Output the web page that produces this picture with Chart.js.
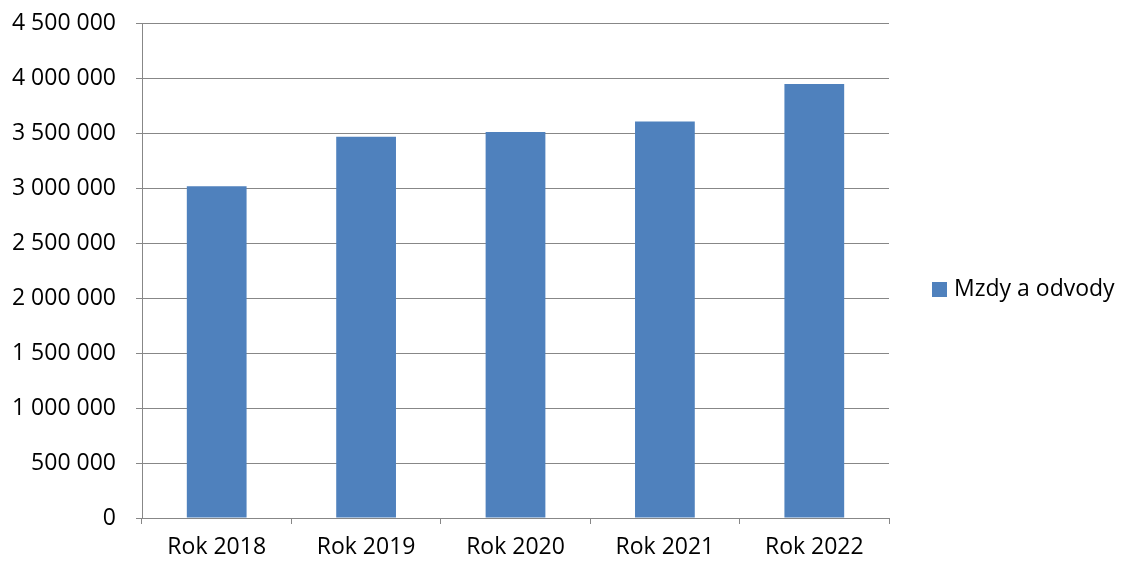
<!DOCTYPE html>
<html>
<head>
<meta charset="utf-8">
<script src="https://cdn.jsdelivr.net/npm/chart.js@4.4.0/dist/chart.umd.min.js"></script>
<style>
  html, body { margin: 0; padding: 0; background: #fff; }
  #wrap { width: 1121px; height: 563px; position: relative; }
</style>
</head>
<body>
<div id="wrap"><canvas id="payrollChart"></canvas></div>
<script>
const years = ['Rok 2018', 'Rok 2019', 'Rok 2020', 'Rok 2021', 'Rok 2022'];
const wages = [3015000, 3465000, 3510000, 3605000, 3945000];
const seriesName = 'Mzdy a odvody';
const yMax = 4500000;
const yStep = 500000;

const fontFamily = "'Open Sans', 'DejaVu Sans', sans-serif";
const fontSize = 23;
const gridColor = '#878787';
const barColor = '#4F81BD';

// legend drawn to the right of the plot, centred on the whole canvas
const sideLegend = {
    id: 'sideLegend',
    afterDraw(chart) {
        const ctx = chart.ctx;
        const ds = chart.data.datasets[0];
        const cy = 289;
        ctx.save();
        ctx.fillStyle = ds.backgroundColor;
        ctx.fillRect(932, cy - 7, 15, 15);
        ctx.fillStyle = '#000';
        ctx.font = fontSize + 'px ' + fontFamily;
        ctx.textBaseline = 'middle';
        ctx.textAlign = 'left';
        ctx.fillText(ds.label, 954, cy);
        ctx.restore();
    }
};

const ctx = document.getElementById('payrollChart').getContext('2d');
const payrollChart = new Chart(ctx, {
    type: 'bar',
    data: {
        labels: years,
        datasets: [{
            label: seriesName,
            data: wages,
            backgroundColor: barColor,
            borderWidth: 0,
            categoryPercentage: 1,
            barPercentage: 0.4
        }]
    },
    options: {
        responsive: true,
        maintainAspectRatio: false,
        animation: false,
        layout: {
            padding: { left: 0, right: 232, top: 23, bottom: 0 }
        },
        plugins: {
            legend: { display: false },
            tooltip: { enabled: false }
        },
        scales: {
            x: {
                grid: {
                    display: true,
                    drawOnChartArea: false,
                    offset: true,
                    color: gridColor,
                    tickLength: 6
                },
                border: { display: true, color: gridColor },
                ticks: {
                    color: '#000',
                    padding: 10,
                    maxRotation: 0,
                    font: { family: fontFamily, size: fontSize }
                },
                afterFit(scale) {
                    scale.height = 45;
                    scale.paddingLeft = 0;
                    scale.paddingRight = 0;
                }
            },
            y: {
                min: 0,
                max: yMax,
                grid: {
                    color: gridColor,
                    tickLength: 6
                },
                border: { display: true, color: gridColor },
                ticks: {
                    stepSize: yStep,
                    color: '#000',
                    padding: 20,
                    font: { family: fontFamily, size: fontSize },
                    callback: v => String(v).replace(/\B(?=(\d{3})+(?!\d))/g, ' ')
                },
                afterFit(scale) {
                    scale.width = 142;
                    scale.paddingTop = 0;
                    scale.paddingBottom = 0;
                }
            }
        }
    },
    plugins: [sideLegend]
});
</script>
</body>
</html>
